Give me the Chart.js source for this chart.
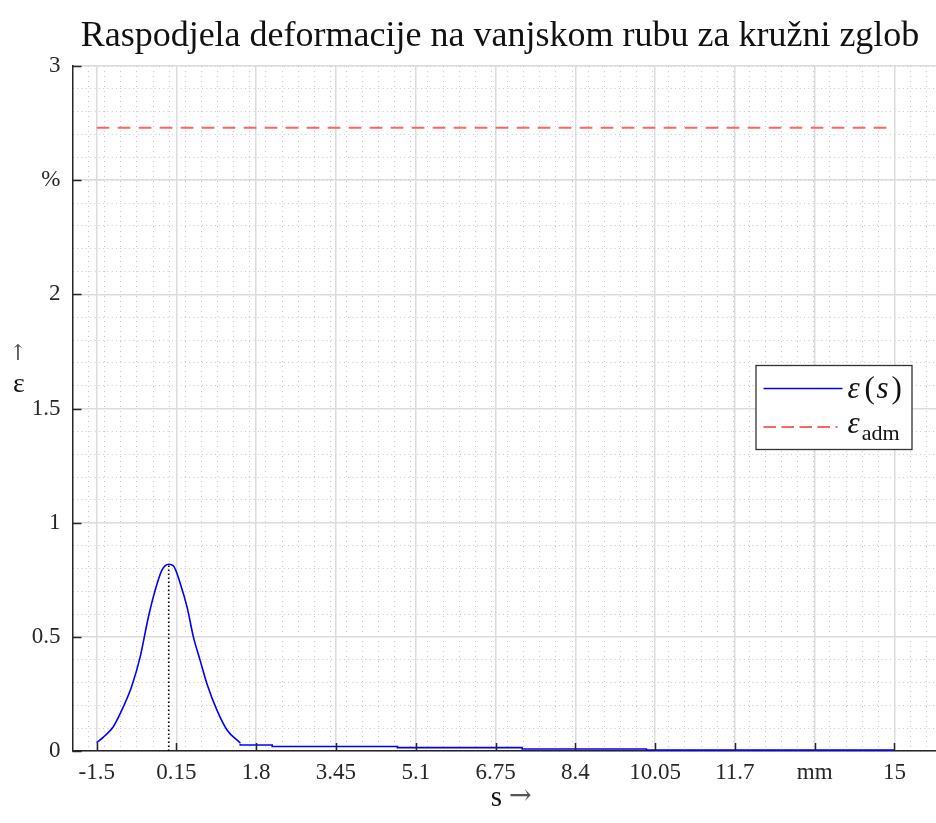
<!DOCTYPE html>
<html>
<head>
<meta charset="utf-8">
<script src="https://cdn.jsdelivr.net/npm/chart.js@4.4.1/dist/chart.umd.min.js"></script>
<style>
  html, body { margin: 0; padding: 0; background: #fff; overflow: hidden; }
  #wrap { width: 936px; height: 823px; }
</style>
</head>
<body>
<div id="wrap"><canvas id="strainChart" width="936" height="823"></canvas></div>
<script>
// strain along the outer edge, bell part around the hinge
const curveS = [-1.5, -1.36, -1.16, -0.95, -0.78, -0.6, -0.43, -0.29, -0.15, -0.01, 0.09, 0.23, 0.37, 0.5, 0.64, 0.78, 0.99, 1.2, 1.47];
const curveEps = [0.037, 0.061, 0.105, 0.193, 0.28, 0.412, 0.587, 0.704, 0.792, 0.818, 0.81, 0.733, 0.63, 0.5, 0.397, 0.295, 0.178, 0.091, 0.035];
// flat tail, slowly stepping down
const tailS = [1.47, 2.13, 4.72, 7.3, 9.87, 12.47, 15];
const tailEps = [0.032, 0.026, 0.02, 0.015, 0.009, 0.004, 0.004];
// admissible strain
const admS = [-1.5, 15];
const epsAdm = 2.73;

const xTicks = [-1.5, 0.15, 1.8, 3.45, 5.1, 6.75, 8.4, 10.05, 11.7, 13.35, 15];
const xTickLabels = ['-1.5', '0.15', '1.8', '3.45', '5.1', '6.75', '8.4', '10.05', '11.7', 'mm', '15'];
const yTicks = [0, 0.5, 1, 1.5, 2, 2.5, 3];
const yTickLabels = ['0', '0.5', '1', '1.5', '2', '%', '3'];

const X_MIN = -2, X_MAX = 15.86;
const SERIF = '"Liberation Serif", "Times New Roman", serif';
const INK = '#262626';

const peakEps = Math.max(...curveEps);
const peakS = curveS[curveEps.indexOf(peakEps)];

const minorX = [];
for (let k = Math.ceil(X_MIN * 3); k / 3 <= X_MAX; k++) minorX.push(k / 3);
const minorY = [];
for (let k = 0; k <= 30; k++) minorY.push(k / 10);

// inward tick marks, legend and titles
const decorations = {
    id: 'decorations',
    afterDraw(chart) {
        const { ctx, chartArea: a, scales } = chart;
        const xs = scales.x, ys = scales.y;
        ctx.save();

        // tick marks pointing into the plot
        ctx.strokeStyle = INK;
        ctx.lineWidth = 1.5;
        ctx.beginPath();
        xTicks.forEach(v => {
            const px = Math.round(xs.getPixelForValue(v)) + 0.5;
            ctx.moveTo(px, a.bottom);
            ctx.lineTo(px, a.bottom - 8);
        });
        yTicks.forEach(v => {
            const py = Math.round(ys.getPixelForValue(v)) + 0.5;
            ctx.moveTo(a.left, py);
            ctx.lineTo(a.left + 9, py);
        });
        ctx.stroke();

        // title
        ctx.fillStyle = '#111';
        ctx.textAlign = 'center';
        ctx.textBaseline = 'alphabetic';
        ctx.font = '36px ' + SERIF;
        ctx.fillText('Raspodjela deformacije na vanjskom rubu za kružni zglob', 500, 46);

        // axis titles
        ctx.fillStyle = '#111';
        ctx.font = '29px ' + SERIF;
        ctx.textAlign = 'right';
        ctx.fillText('s', 502, 806);
        ctx.fillStyle = '#555';
        ctx.font = '27px "DejaVu Serif", serif';
        ctx.textAlign = 'left';
        ctx.fillText('\u2192', 509, 804);

        ctx.textAlign = 'center';
        ctx.fillStyle = '#555';
        ctx.font = '22px "DejaVu Serif", serif';
        ctx.fillText('\u2191', 18, 360);
        ctx.fillStyle = '#111';
        ctx.font = '28px ' + SERIF;
        ctx.fillText('\u03b5', 19, 392);

        // legend
        const lx = a.left + 683, ly = a.top + 299, lw = 156, lh = 84;
        ctx.fillStyle = '#fff';
        ctx.fillRect(lx, ly, lw, lh);
        ctx.strokeStyle = '#333';
        ctx.lineWidth = 1.3;
        ctx.strokeRect(lx + 0.5, ly + 0.5, lw, lh);

        ctx.lineWidth = 1.5;
        ctx.strokeStyle = '#0000ff';
        ctx.beginPath();
        ctx.moveTo(lx + 8, ly + 23.5);
        ctx.lineTo(lx + 87, ly + 23.5);
        ctx.stroke();

        ctx.strokeStyle = '#ff6464';
        ctx.lineWidth = 2;
        ctx.setLineDash([12.5, 5.5]);
        ctx.beginPath();
        ctx.moveTo(lx + 8, ly + 62);
        ctx.lineTo(lx + 82, ly + 62);
        ctx.stroke();
        ctx.setLineDash([]);

        ctx.fillStyle = '#111';
        ctx.textAlign = 'left';
        const row1 = [['\u03b5', 'italic ', 92], ['(', '', 109], ['s', 'italic ', 121], [')', '', 136]];
        row1.forEach(([t, st, off]) => {
            ctx.font = st + '31px ' + SERIF;
            ctx.fillText(t, lx + off, ly + 33);
        });
        ctx.font = 'italic 31px ' + SERIF;
        ctx.fillText('\u03b5', lx + 92, ly + 68);
        const ew = ctx.measureText('\u03b5').width;
        ctx.font = '22px ' + SERIF;
        ctx.fillText('adm', lx + 92 + ew + 2, ly + 75);

        ctx.restore();
    }
};

const ctx = document.getElementById('strainChart').getContext('2d');
new Chart(ctx, {
    type: 'line',
    data: {
        datasets: [
            {
                label: 'ε(s)',
                data: curveS.map((s, i) => ({ x: s, y: curveEps[i] })),
                borderColor: '#0000ff',
                borderWidth: 1.6,
                pointRadius: 0,
                cubicInterpolationMode: 'monotone'
            },
            {
                label: 'ε(s) tail',
                data: tailS.map((s, i) => ({ x: s, y: tailEps[i] })),
                borderColor: '#0000ff',
                borderWidth: 1.6,
                pointRadius: 0,
                stepped: 'after'
            },
            {
                label: 'ε adm',
                data: admS.map(s => ({ x: s, y: epsAdm })),
                borderColor: '#ff6464',
                borderWidth: 2,
                borderDash: [12.7, 8.3],
                pointRadius: 0
            },
            {
                label: 'peak',
                data: [{ x: peakS, y: 0 }, { x: peakS, y: peakEps }],
                borderColor: '#000',
                borderWidth: 1.6,
                borderDash: [1.5, 2.5],
                pointRadius: 0
            }
        ]
    },
    options: {
        responsive: false,
        animation: false,
        layout: { padding: { top: 66, left: 0, right: 0, bottom: 0 } },
        plugins: {
            legend: { display: false },
            tooltip: { enabled: false },
            title: { display: false }
        },
        scales: {
            xMinor: {
                type: 'linear', position: 'bottom', min: X_MIN, max: X_MAX, z: -1,
                afterBuildTicks: s => { s.ticks = minorX.map(v => ({ value: v })); },
                afterFit: s => { s.height = 0; },
                ticks: { display: false },
                grid: { color: '#c8c8c8', lineWidth: 1, drawTicks: false },
                border: { display: false, dash: [1, 4] }
            },
            yMinor: {
                type: 'linear', position: 'left', min: 0, max: 3, z: -1,
                afterBuildTicks: s => { s.ticks = minorY.map(v => ({ value: v })); },
                afterFit: s => { s.width = 0; },
                ticks: { display: false },
                grid: { color: '#c8c8c8', lineWidth: 1, drawTicks: false },
                border: { display: false, dash: [1, 3.3] }
            },
            x: {
                type: 'linear', position: 'bottom', min: X_MIN, max: X_MAX,
                afterBuildTicks: s => { s.ticks = xTicks.map(v => ({ value: v })); },
                afterFit: s => { s.height = 72; },
                ticks: {
                    autoSkip: false, maxRotation: 0, padding: 8, color: INK,
                    font: { family: SERIF, size: 23 },
                    callback: (v, i) => xTickLabels[i]
                },
                grid: { color: '#dcdcdc', lineWidth: 1.5, drawTicks: false },
                border: { display: true, color: INK, width: 1.5 }
            },
            y: {
                type: 'linear', position: 'left', min: 0, max: 3,
                afterBuildTicks: s => { s.ticks = yTicks.map(v => ({ value: v })); },
                afterFit: s => { s.width = 72.5; },
                ticks: {
                    padding: 12, color: INK,
                    font: { family: SERIF, size: 23 },
                    callback: (v, i) => yTickLabels[i]
                },
                grid: { color: '#dcdcdc', lineWidth: 1.5, drawTicks: false },
                border: { display: true, color: INK, width: 1.5 }
            }
        }
    },
    plugins: [decorations]
});
</script>
</body>
</html>
